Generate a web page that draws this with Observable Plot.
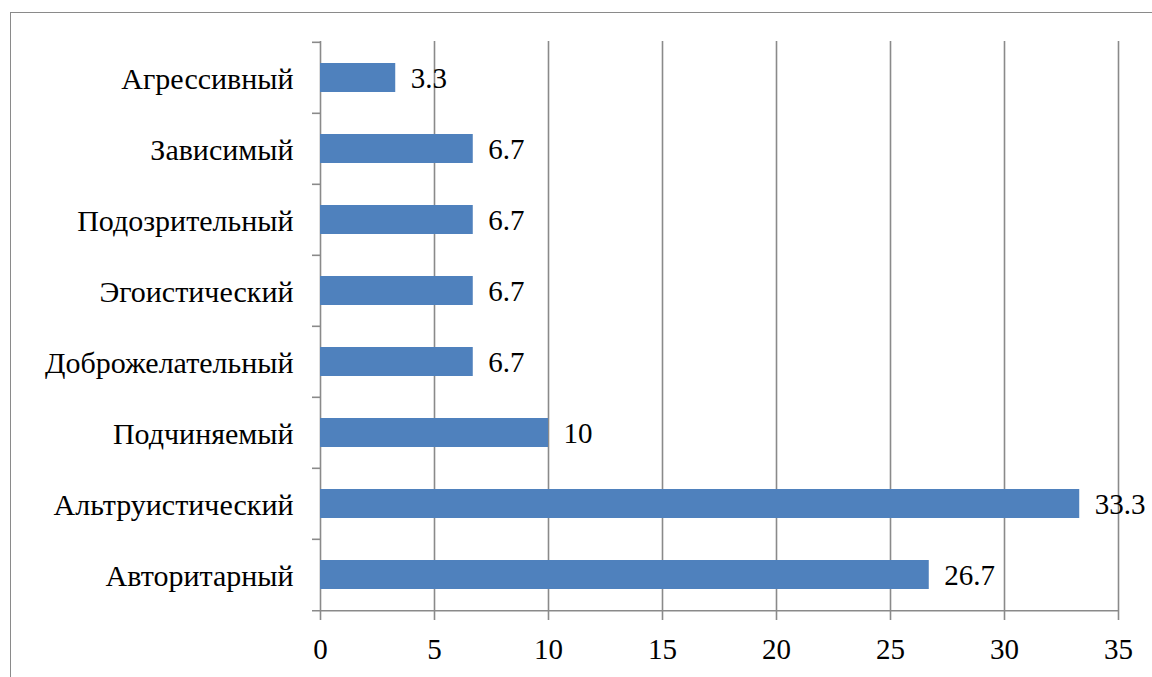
<!DOCTYPE html>
<html>
<head>
<meta charset="utf-8">
<script src="https://cdn.jsdelivr.net/npm/d3@7"></script>
<script src="https://cdn.jsdelivr.net/npm/@observablehq/plot@0.6"></script>
<style>
  html, body { margin: 0; padding: 0; background: #fff; }
  #wrap { position: relative; width: 1152px; height: 677px; overflow: hidden; }
  #frame { position: absolute; left: 10px; top: 12px; right: -5px; bottom: -5px;
           border-top: 1.5px solid #8a8a8a; border-left: 1.5px solid #8a8a8a; pointer-events: none; }
</style>
</head>
<body>
<div id="wrap"><div id="frame"></div></div>
<script>
const categories = ["Агрессивный", "Зависимый", "Подозрительный", "Эгоистический", "Доброжелательный", "Подчиняемый", "Альтруистический", "Авторитарный"];
const values = [3.3, 6.7, 6.7, 6.7, 6.7, 10, 33.3, 26.7];
const xTicks = [0, 5, 10, 15, 20, 25, 30, 35];

const data = categories.map((c, i) => ({category: c, value: values[i]}));

const W = 1152, H = 677;
const mTop = 41, mBottom = 65, mLeft = 320, mRight = 34;
const step = (H - mTop - mBottom) / categories.length;
const tickLen = 8 * 35 / (W - mLeft - mRight);
const serif = "'Liberation Serif', 'Times New Roman', serif";

const chart = Plot.plot({
  width: W,
  height: H,
  marginTop: mTop,
  marginBottom: mBottom,
  marginLeft: mLeft,
  marginRight: mRight,
  style: {background: "transparent", color: "#000"},
  x: {domain: [0, 35], ticks: xTicks},
  y: {domain: categories, paddingInner: 0.59, paddingOuter: 0.295},
  marks: [
    Plot.gridX(xTicks, {stroke: "#8a8a8a", strokeOpacity: 1, strokeWidth: 1.6}),
    Plot.barX(data, {y: "category", x: "value", fill: "#4F81BD"}),
    Plot.ruleY(categories, {y: d => d, dy: -step / 2, x1: -tickLen, x2: 0, stroke: "#8a8a8a", strokeWidth: 1.6}),
    Plot.ruleY([categories[categories.length - 1]], {y: d => d, dy: step / 2, x1: -tickLen, x2: 35, stroke: "#8a8a8a", strokeWidth: 1.6}),
    Plot.text(data, {y: "category", x: "value", text: d => String(d.value), textAnchor: "start", dx: 15, dy: 1, fontSize: 29, fontFamily: serif, fill: "#000"}),
    Plot.axisX(xTicks, {tickSize: 8, tickPadding: 18, stroke: "#8a8a8a", strokeWidth: 1.6, fontSize: 29, fontFamily: serif, fill: "#000", label: null}),
    Plot.axisY({tickSize: 0, tickPadding: 27, fontSize: 30, fontFamily: serif, fill: "#000", label: null, dy: 1})
  ]
});
document.getElementById("wrap").insertBefore(chart, document.getElementById("frame"));
</script>
</body>
</html>
